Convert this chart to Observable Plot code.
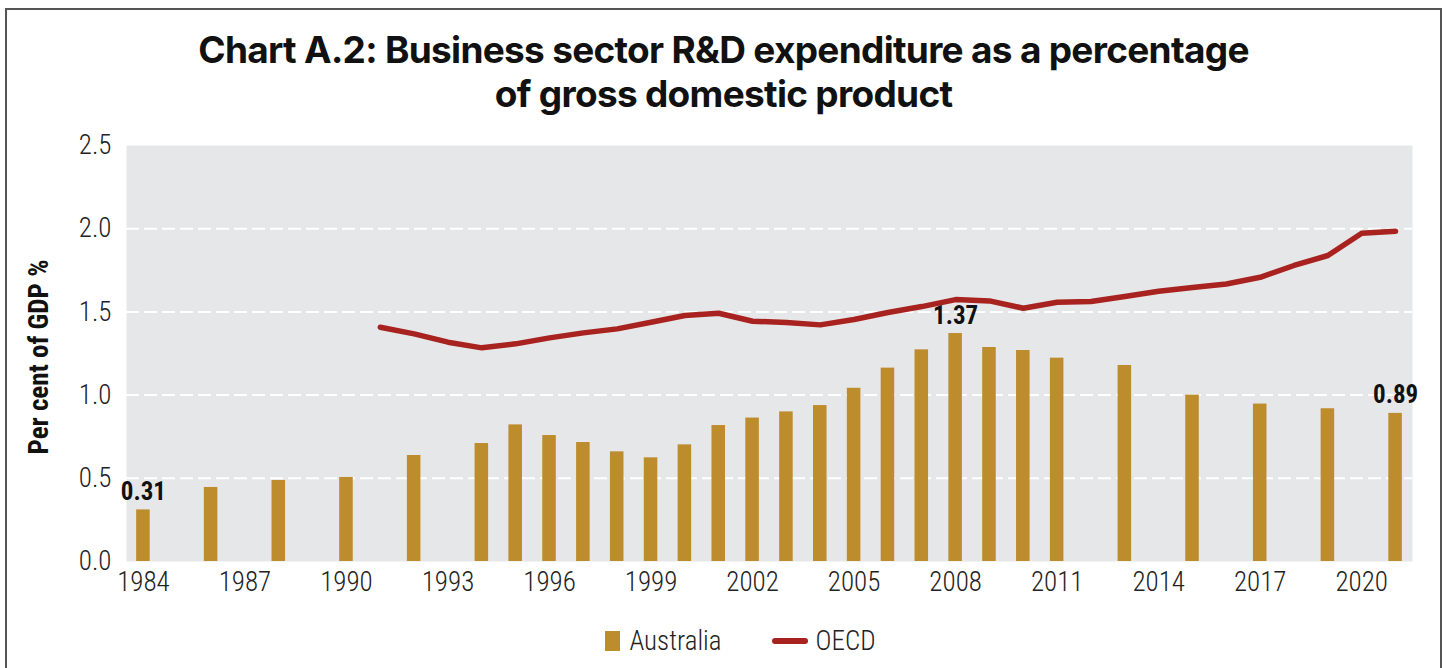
<!DOCTYPE html>
<html>
<head>
<meta charset="utf-8">
<script src="https://cdn.jsdelivr.net/npm/d3@7"></script>
<script src="https://cdn.jsdelivr.net/npm/@observablehq/plot@0.6"></script>
<style>
  html, body { margin: 0; padding: 0; background: #fff; }
  #wrap { position: relative; width: 1447px; height: 668px; overflow: hidden; background: #fff; }
  #frame { position: absolute; left: 5px; top: 8px; width: 1433px; height: 700px;
           border-left: 2px solid #555; border-right: 2px solid #555; border-top: 2px solid #555; }
  #title { position: absolute; top: 28px; left: 0; width: 1447px; text-align: center;
           font-family: Inter, "Open Sans", sans-serif; font-weight: 700; font-size: 37px;
           line-height: 44px; color: #111; letter-spacing: -0.7px; }
  .cond { font-family: "Roboto Condensed", "Liberation Sans Narrow", "DejaVu Sans Condensed", "Arial Narrow", sans-serif; font-stretch: condensed; }
  #ylabel { position: absolute; left: 39px; top: 357px; transform: translate(-50%, -50%) rotate(-90deg);
            white-space: nowrap; font-weight: 700; font-size: 27px; color: #111; }
  #chart { position: absolute; left: 0; top: 130px; }
  #legend { position: absolute; top: 625px; left: 0; width: 1447px; display: flex; justify-content: center;
            align-items: center; gap: 0; font-size: 27px; color: #222; padding-left: 34px; box-sizing: border-box; }
  .sw-bar { display: inline-block; width: 15px; height: 20px; margin-right: 9px; }
  .sw-line { display: inline-block; width: 36px; height: 6px; border-radius: 3px; margin-right: 8px; margin-left: 50px; }
</style>
</head>
<body>
<div id="wrap">
  <div id="frame"></div>
  <div id="title">Chart A.2: Business sector R&amp;D expenditure as a percentage<br>of gross domestic product</div>
  <div id="ylabel" class="cond">Per cent of GDP %</div>
  <div id="chart"></div>
  <div id="legend" class="cond"></div>
</div>
<script>
// ---- Data ----
const allYears = [1984,1985,1986,1987,1988,1989,1990,1991,1992,1993,1994,1995,1996,1997,1998,1999,2000,2001,2002,2003,2004,2005,2006,2007,2008,2009,2010,2011,2012,2013,2014,2015,2016,2017,2018,2019,2020,2021];
const tickYears = [1984,1987,1990,1993,1996,1999,2002,2005,2008,2011,2014,2017,2020];
const yTicks = [0, 0.5, 1.0, 1.5, 2.0, 2.5];

const australiaYears  = [1984,1986,1988,1990,1992,1994,1995,1996,1997,1998,1999,2000,2001,2002,2003,2004,2005,2006,2007,2008,2009,2010,2011,2013,2015,2017,2019,2021];
const australiaValues = [0.31,0.445,0.487,0.505,0.637,0.709,0.821,0.757,0.715,0.659,0.623,0.701,0.817,0.862,0.899,0.937,1.041,1.162,1.272,1.37,1.286,1.268,1.222,1.178,1.0,0.946,0.918,0.89];

const oecdYears  = [1991,1992,1993,1994,1995,1996,1997,1998,1999,2000,2001,2002,2003,2004,2005,2006,2007,2008,2009,2010,2011,2012,2013,2014,2015,2016,2017,2018,2019,2020,2021];
const oecdValues = [1.408,1.368,1.318,1.284,1.308,1.344,1.374,1.398,1.438,1.478,1.492,1.444,1.436,1.422,1.454,1.496,1.532,1.574,1.566,1.522,1.558,1.562,1.592,1.624,1.646,1.668,1.708,1.779,1.839,1.973,1.985];

const labelYears = [1984, 2008, 2021];
const labelTexts = ["0.31", "1.37", "0.89"];

const seriesNames = ["Australia", "OECD"];
const seriesColors = ["#bd8c2c", "#a8231f"];

// ---- Tables ----
const australia = australiaYears.map((y, i) => ({year: y, value: australiaValues[i]}));
const oecd = oecdYears.map((y, i) => ({year: y, value: oecdValues[i]}));
const labels = labelYears.map((y, i) => ({year: y, value: australiaValues[australiaYears.indexOf(y)], text: labelTexts[i]}));

const condFont = '"Roboto Condensed", "Liberation Sans Narrow", "DejaVu Sans Condensed", "Arial Narrow", sans-serif';

const chart = Plot.plot({
  width: 1447,
  height: 470,
  marginLeft: 126,
  marginRight: 35,
  marginTop: 15,
  marginBottom: 39,
  style: {fontFamily: condFont, fontSize: "27px", color: "#222", background: "transparent"},
  x: {type: "band", domain: allYears, paddingInner: 0.6, paddingOuter: 0.3, ticks: tickYears,
      tickSize: 0, tickPadding: 10, tickFormat: d => String(d), label: null},
  y: {domain: [0, 2.5], ticks: yTicks, tickFormat: d3.format(".1f"), tickSize: 0, tickPadding: 15, label: null},
  marks: [
    Plot.frame({fill: "#e6e7e9", stroke: null}),
    Plot.ruleY([0.5, 1.0, 1.5, 2.0], {stroke: "#ffffff", strokeWidth: 2, strokeDasharray: "13,5"}),
    Plot.barY(australia, {x: "year", y: "value", fill: seriesColors[0]}),
    Plot.line(oecd, {x: "year", y: "value", stroke: seriesColors[1], strokeWidth: 5.5, strokeLinecap: "round", strokeLinejoin: "round"}),
    Plot.text(labels, {x: "year", y: "value", text: "text", dy: -10, lineAnchor: "bottom",
                       fontWeight: 700, fontSize: 25, fill: "#111"})
  ]
});
chart.style.fontWeight = "300";
document.getElementById("chart").appendChild(chart);

// ---- Legend ----
const legend = document.getElementById("legend");
legend.innerHTML =
  `<span class="sw-bar" style="background:${seriesColors[0]}"></span><span style="font-weight:300">${seriesNames[0]}</span>` +
  `<span class="sw-line" style="background:${seriesColors[1]}"></span><span style="font-weight:300">${seriesNames[1]}</span>`;
</script>
</body>
</html>
